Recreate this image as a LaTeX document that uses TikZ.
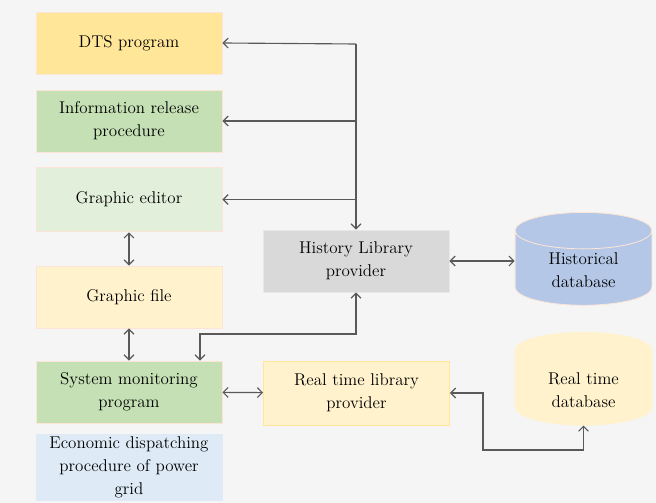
\documentclass[tikz,border=0pt]{standalone}
\usetikzlibrary{shapes.geometric,arrows.meta}
\definecolor{bgcol}{HTML}{F5F5F5}
\definecolor{linkcol}{HTML}{595959}
\definecolor{dtscol}{HTML}{FFE699}
\definecolor{greencol}{HTML}{C5E0B4}
\definecolor{palegreen}{HTML}{E2EFDA}
\definecolor{paleyellow}{HTML}{FFF2CC}
\definecolor{palebluecol}{HTML}{DEEBF7}
\definecolor{greycol}{HTML}{D9D9D9}
\definecolor{bluecol}{HTML}{B4C7E7}
\definecolor{edgecol}{HTML}{FBE5D6}
\begin{document}
\begin{tikzpicture}[x=0.025cm, y=-0.025cm, >={Straight Barb[length=3.5pt,width=7pt]},
main box/.style={rectangle,draw=edgecol,line width=0.6pt,minimum width=4.65cm,minimum height=1.55cm,inner sep=1pt,align=center,font=\fontsize{12.1}{16.3}\selectfont},
data base/.style={cylinder,shape border rotate=90,aspect=0.5,draw=edgecol,line width=0.6pt,minimum width=3.42cm,minimum height=2.32cm,inner sep=1pt,align=center,font=\fontsize{12.1}{16.3}\selectfont},
link/.style={draw=linkcol,line width=0.8pt}]
\useasboundingbox[fill=bgcol] (0,0) rectangle (656,503);
\begin{scope}
\node[main box,fill=dtscol] (dts) at (129,43) {DTS program};
\node[main box,fill=greencol] (info) at (129,121) {Information release\\procedure};
\node[main box,fill=palegreen,minimum height=1.62cm] (editor) at (129,199.5) {Graphic editor};
\node[main box,fill=paleyellow] (file) at (129,297) {Graphic file};
\node[main box,fill=greencol] (monitor) at (129,392) {System monitoring\\program};
\node[main box,fill=palebluecol,draw=palebluecol,minimum height=1.65cm] (econ) at (129,467) {Economic dispatching\\procedure of power\\grid};
\node[main box,fill=greycol,draw=greycol!60] (history) at (356,261) {History Library\\provider};
\node[main box,fill=paleyellow,draw=dtscol,minimum height=1.6cm] (rtlib) at (356.5,393) {Real time library\\provider};
\node[data base,fill=bluecol] (histdb) at (583.5,270) {Historical\\database};
\node[data base,fill=paleyellow,draw=paleyellow] (rtdb) at (583.5,390) {Real time\\database};
\end{scope}
\coordinate (bus) at (356,44);
\coordinate (hm) at (200,334);
\coordinate (rm) at (483,450);
\begin{scope}[link]
\draw[->] (bus) -- (dts.east);
\draw[->] (info.east -| bus) -- (info.east);
\draw[->] (editor.east -| bus) -- (editor.east);
\draw[->] (bus) -- (history.north);
\draw[<->] (editor) -- (file);
\draw[<->] (file) -- (monitor);
\draw[<->] (history.south) |- (hm) -- (hm |- monitor.north);
\draw[<->] (monitor) -- (rtlib);
\draw[<->] (history.east) -- (history.east -| histdb.west);
\draw[<->] (rtlib.east) -- (rtlib.east -| rm) -- (rm) -| (rtdb.south);
\end{scope}
\end{tikzpicture}
\end{document}
